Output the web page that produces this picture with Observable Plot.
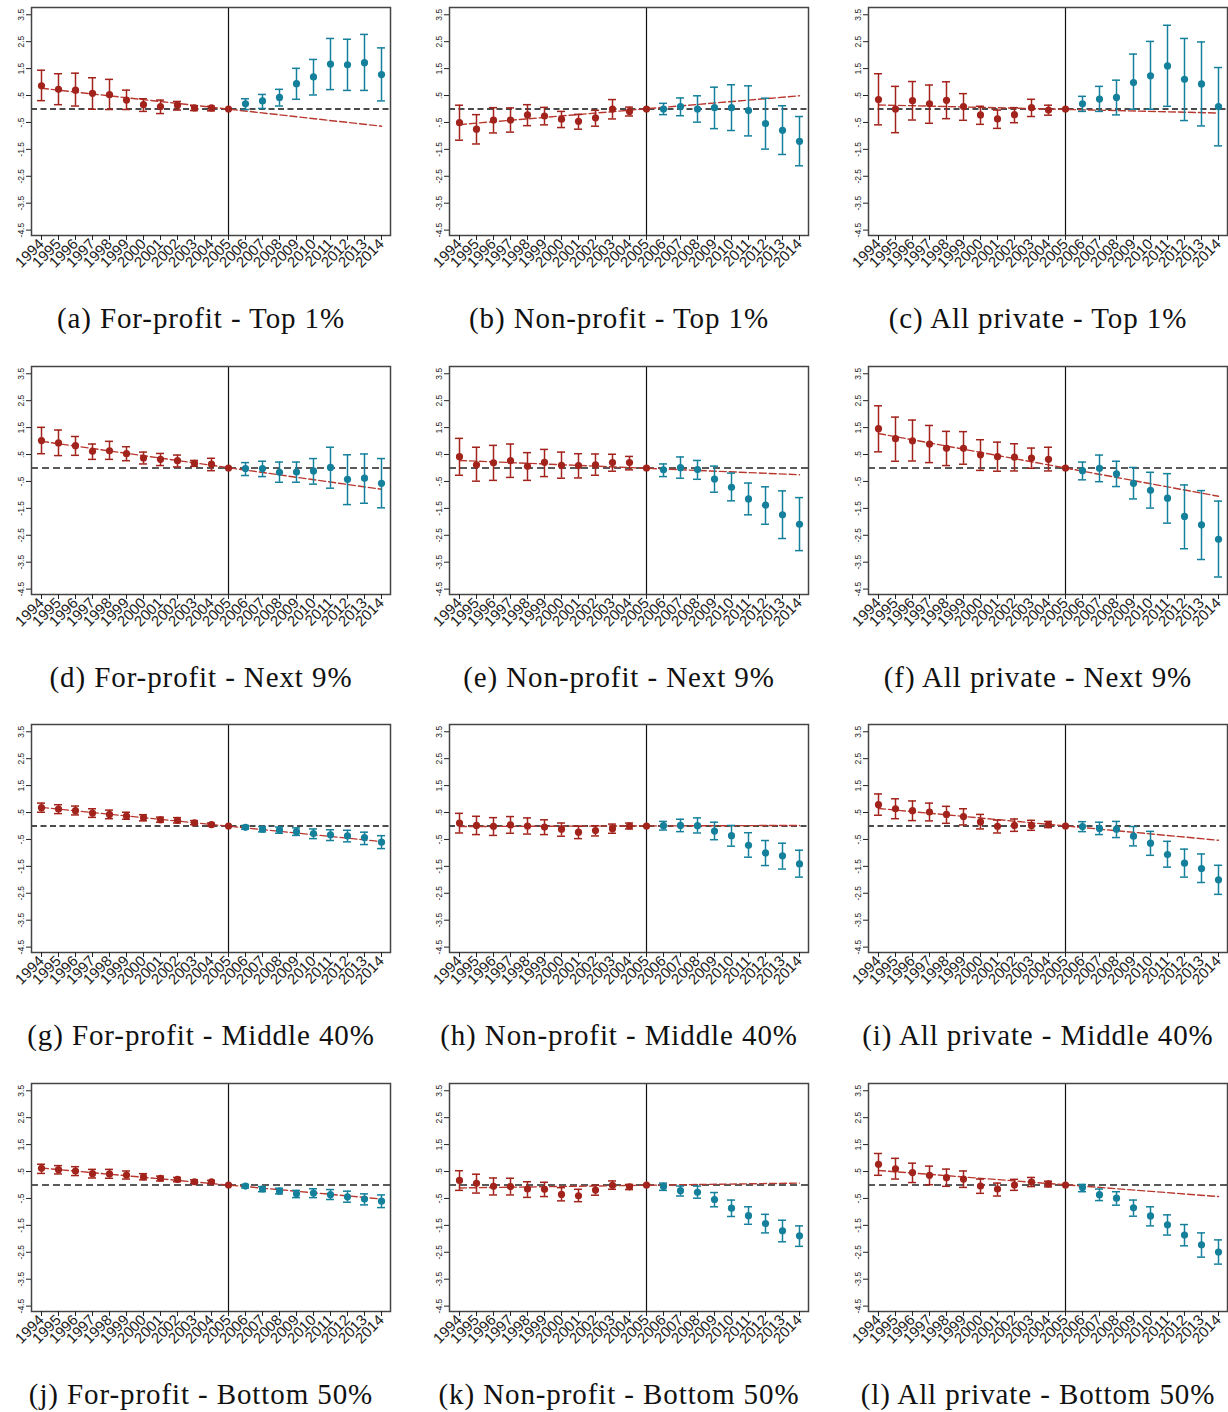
<!DOCTYPE html>
<html><head><meta charset="utf-8">
<script src="https://cdn.jsdelivr.net/npm/d3@7"></script>
<script src="https://cdn.jsdelivr.net/npm/@observablehq/plot@0.6"></script>
<style>
body{margin:0;background:#fff;overflow:hidden;}
#wrap{position:relative;width:1228px;height:1412px;background:#fff;}
.panel{position:absolute;}
.cap{position:absolute;width:402px;height:30px;line-height:30px;text-align:center;font-family:"Liberation Serif",serif;font-size:29px;letter-spacing:0.9px;white-space:nowrap;color:#111;}
</style></head><body><div id="wrap"></div>
<script>
const years = [1994,1995,1996,1997,1998,1999,2000,2001,2002,2003,2004,2005,2006,2007,2008,2009,2010,2011,2012,2013,2014];
const yTicks = [3.5,2.5,1.5,0.5,-0.5,-1.5,-2.5,-3.5,-4.5];
const captions = ["(a) For-profit - Top 1%","(b) Non-profit - Top 1%","(c) All private - Top 1%",
  "(d) For-profit - Next 9%","(e) Non-profit - Next 9%","(f) All private - Next 9%",
  "(g) For-profit - Middle 40%","(h) Non-profit - Middle 40%","(i) All private - Middle 40%",
  "(j) For-profit - Bottom 50%","(k) Non-profit - Bottom 50%","(l) All private - Bottom 50%"];

const estA=[0.86,0.73,0.70,0.58,0.53,0.33,0.16,0.09,0.14,0.04,0.04,0,0.19,0.30,0.43,0.94,1.19,1.67,1.64,1.72,1.28];
const loA=[0.31,0.16,0.11,-0.01,-0.02,-0.02,-0.09,-0.17,-0.04,-0.06,-0.07,0,-0.02,0.02,0.11,0.36,0.52,0.72,0.69,0.69,0.30];
const hiA=[1.44,1.31,1.33,1.16,1.10,0.70,0.38,0.33,0.28,0.12,0.10,0,0.38,0.54,0.73,1.51,1.84,2.62,2.59,2.77,2.27];

const estB=[-0.51,-0.75,-0.41,-0.41,-0.22,-0.26,-0.38,-0.46,-0.33,0.00,-0.09,0,0,0.09,0,0.05,0.05,-0.06,-0.54,-0.79,-1.20];
const loB=[-1.16,-1.30,-0.89,-0.86,-0.62,-0.59,-0.69,-0.75,-0.64,-0.37,-0.26,0,-0.21,-0.25,-0.49,-0.73,-0.80,-1.00,-1.49,-1.69,-2.11];
const hiB=[0.14,-0.21,0.05,0.04,0.16,0.06,-0.09,-0.20,-0.05,0.35,0.07,0,0.21,0.41,0.49,0.81,0.90,0.86,0.40,0.12,-0.28];

const estC=[0.35,0,0.31,0.19,0.32,0.09,-0.22,-0.37,-0.21,0.05,-0.04,0,0.19,0.37,0.43,0.98,1.23,1.60,1.10,0.93,0.09];
const loC=[-0.59,-0.88,-0.41,-0.53,-0.36,-0.42,-0.57,-0.72,-0.51,-0.28,-0.23,0,-0.09,-0.09,-0.22,-0.01,-0.01,0.10,-0.43,-0.63,-1.37];
const hiC=[1.31,0.84,1.02,0.89,1.01,0.57,0.10,-0.04,0.05,0.36,0.14,0,0.47,0.84,1.07,2.04,2.51,3.11,2.62,2.49,1.54];

const estD=[1.02,0.93,0.83,0.62,0.64,0.53,0.37,0.32,0.27,0.17,0.14,0,-0.02,-0.02,-0.16,-0.15,-0.11,0.02,-0.42,-0.38,-0.57];
const loD=[0.53,0.46,0.47,0.32,0.32,0.27,0.15,0.09,0.04,0.06,-0.10,0,-0.28,-0.32,-0.53,-0.53,-0.60,-0.75,-1.36,-1.31,-1.48];
const hiD=[1.51,1.41,1.17,0.89,0.99,0.79,0.59,0.54,0.48,0.28,0.36,0,0.20,0.25,0.22,0.22,0.35,0.77,0.49,0.52,0.35];

const estE=[0.42,0.12,0.19,0.27,0.06,0.21,0.10,0.09,0.12,0.20,0.20,0,-0.07,0.01,-0.06,-0.41,-0.72,-1.15,-1.38,-1.74,-2.09];
const loE=[-0.27,-0.49,-0.46,-0.35,-0.46,-0.32,-0.38,-0.37,-0.27,-0.12,-0.07,0,-0.32,-0.38,-0.42,-0.90,-1.22,-1.74,-2.09,-2.62,-3.07];
const hiE=[1.10,0.77,0.84,0.89,0.57,0.69,0.59,0.53,0.52,0.51,0.43,0,0.15,0.41,0.28,0.07,-0.19,-0.56,-0.70,-0.85,-1.10];

const estF=[1.46,1.09,1.01,0.89,0.73,0.73,0.49,0.42,0.40,0.37,0.32,0,-0.10,-0.01,-0.22,-0.57,-0.83,-1.12,-1.80,-2.11,-2.65];
const loF=[0.60,0.25,0.26,0.20,0.09,0.14,-0.09,-0.12,-0.11,-0.01,-0.11,0,-0.44,-0.51,-0.69,-1.15,-1.49,-2.05,-3.00,-3.40,-4.05];
const hiF=[2.31,1.89,1.78,1.58,1.36,1.35,1.05,0.96,0.90,0.74,0.77,0,0.22,0.48,0.25,0.02,-0.16,-0.21,-0.63,-0.84,-1.23];

const estG=[0.68,0.63,0.57,0.48,0.43,0.37,0.31,0.23,0.21,0.12,0.05,0,-0.05,-0.12,-0.15,-0.21,-0.28,-0.33,-0.37,-0.43,-0.60];
const loG=[0.51,0.46,0.41,0.32,0.27,0.25,0.19,0.14,0.11,0.05,-0.01,0,-0.12,-0.22,-0.27,-0.35,-0.47,-0.54,-0.59,-0.69,-0.84];
const hiG=[0.85,0.79,0.74,0.64,0.59,0.51,0.42,0.33,0.31,0.20,0.11,0,0.02,-0.02,-0.04,-0.07,-0.11,-0.14,-0.16,-0.23,-0.36];

const estH=[0.11,0.02,-0.01,0.04,0,-0.04,-0.12,-0.23,-0.17,-0.10,0,0,0.01,0.02,0.01,-0.19,-0.36,-0.72,-1.00,-1.11,-1.41];
const loH=[-0.26,-0.32,-0.35,-0.27,-0.30,-0.32,-0.38,-0.47,-0.37,-0.27,-0.11,0,-0.15,-0.21,-0.26,-0.51,-0.75,-1.16,-1.47,-1.60,-1.90];
const hiH=[0.47,0.36,0.31,0.35,0.30,0.23,0.11,-0.01,0.01,0.07,0.11,0,0.17,0.25,0.30,0.14,0.02,-0.25,-0.54,-0.64,-0.90];

const estI=[0.79,0.64,0.57,0.52,0.43,0.35,0.15,-0.01,0.02,0.02,0.05,0,-0.02,-0.09,-0.12,-0.38,-0.64,-1.06,-1.38,-1.58,-2.00];
const loI=[0.40,0.27,0.20,0.19,0.10,0.04,-0.11,-0.26,-0.20,-0.16,-0.06,0,-0.21,-0.32,-0.43,-0.74,-1.09,-1.53,-1.90,-2.10,-2.54];
const hiI=[1.19,1.01,0.93,0.85,0.73,0.64,0.43,0.22,0.26,0.21,0.17,0,0.16,0.14,0.17,-0.02,-0.20,-0.57,-0.86,-1.04,-1.46];

const estJ=[0.62,0.57,0.52,0.42,0.41,0.37,0.30,0.25,0.21,0.12,0.12,0,-0.04,-0.15,-0.23,-0.33,-0.30,-0.36,-0.44,-0.52,-0.60];
const loJ=[0.43,0.41,0.35,0.26,0.25,0.22,0.19,0.15,0.12,0.06,0.06,0,-0.11,-0.25,-0.33,-0.47,-0.47,-0.54,-0.64,-0.74,-0.84];
const hiJ=[0.77,0.72,0.68,0.58,0.58,0.52,0.42,0.33,0.28,0.19,0.17,0,0.02,-0.06,-0.12,-0.20,-0.14,-0.17,-0.23,-0.33,-0.37];

const estK=[0.17,0.06,-0.05,-0.06,-0.15,-0.16,-0.35,-0.40,-0.19,-0.01,-0.07,0,-0.06,-0.21,-0.27,-0.54,-0.86,-1.14,-1.43,-1.70,-1.89];
const loK=[-0.20,-0.30,-0.37,-0.37,-0.46,-0.43,-0.59,-0.62,-0.38,-0.16,-0.17,0,-0.20,-0.41,-0.49,-0.81,-1.17,-1.46,-1.78,-2.11,-2.28];
const hiK=[0.53,0.40,0.26,0.25,0.12,0.10,-0.10,-0.16,-0.01,0.15,0.02,0,0.07,-0.04,-0.04,-0.28,-0.56,-0.81,-1.09,-1.31,-1.52];

const estL=[0.77,0.60,0.46,0.36,0.27,0.22,-0.04,-0.15,0,0.11,0.04,0,-0.09,-0.36,-0.49,-0.85,-1.15,-1.48,-1.86,-2.22,-2.49];
const loL=[0.36,0.22,0.09,0.01,-0.05,-0.09,-0.31,-0.41,-0.20,-0.06,-0.07,0,-0.25,-0.58,-0.75,-1.16,-1.52,-1.86,-2.26,-2.68,-2.94];
const hiL=[1.17,0.99,0.81,0.70,0.59,0.52,0.22,0.07,0.21,0.28,0.14,0,0.02,-0.15,-0.25,-0.56,-0.81,-1.11,-1.47,-1.78,-2.04];

// pre-trend fitted line, values at 1994 and at 2014
const trendStart=[0.77,-0.58,0.15, 0.99,0.28,1.28, 0.69,-0.02,0.65, 0.63,-0.11,0.54];
const trendEnd  =[-0.64,0.49,-0.15, -0.79,-0.25,-1.05, -0.58,0.02,-0.53, -0.52,0.07,-0.43];

const ests=[estA,estB,estC,estD,estE,estF,estG,estH,estI,estJ,estK,estL];
const los=[loA,loB,loC,loD,loE,loF,loG,loH,loI,loJ,loK,loL];
const his=[hiA,hiB,hiC,hiD,hiE,hiF,hiG,hiH,hiI,hiJ,hiK,hiL];

const RED="#a2231b", BLUE="#14809b", TREND="#b8382f";
const colLeft=[0,418,837], rowTop=[0,359,717,1076];
const fmt = d => String(d).replace(/^(-?)0\./,"$1.");

function panel(p){
  const row=Math.floor(p/3);
  const data=years.map((yr,i)=>({yr,est:ests[p][i],lo:los[p][i],hi:his[p][i]}));
  const pre=data.filter(d=>d.yr<=2005), post=data.filter(d=>d.yr>2005);
  const trend=[{yr:years[0],v:trendStart[p]},{yr:years[years.length-1],v:trendEnd[p]}];
  const zeroGray = row===1||row===3;
  const groupMarks=[];
  for (const [set,col] of [[pre,RED],[post,BLUE]]){
    const bars=set.filter(d=>d.lo!==d.hi);
    groupMarks.push(
      Plot.ruleX(bars,{x:"yr",y1:"lo",y2:"hi",stroke:col,strokeWidth:1.5}),
      Plot.tickY(bars,{x:"yr",y:"lo",stroke:col,strokeWidth:1.5}),
      Plot.tickY(bars,{x:"yr",y:"hi",stroke:col,strokeWidth:1.5}),
      Plot.dot(set,{x:"yr",y:"est",r:3.6,fill:col,stroke:null})
    );
  }
  return Plot.plot({
    width:392,height:282,
    marginLeft:31,marginRight:2,marginTop:7,marginBottom:47,
    style:{fontFamily:"'Liberation Sans', Arial, sans-serif",background:"transparent",color:"#222",overflow:"visible"},
    x:{type:"band",domain:years,paddingInner:0.53,paddingOuter:0.23,align:0.5},
    y:{domain:[-4.7,3.77]},
    marks:[
      Plot.ruleY([0],{stroke:zeroGray?"#5a5a5a":"#111",strokeWidth:zeroGray?2:1.4,strokeDasharray:zeroGray?"7,4":"6,3.5"}),
      Plot.ruleX([2005],{stroke:"#111",strokeWidth:1.2}),
      Plot.line(trend,{x:"yr",y:"v",stroke:TREND,strokeWidth:1.4,strokeDasharray:"7,3"}),
      ...groupMarks,
      Plot.frame({stroke:"#444",strokeWidth:1.5}),
      Plot.axisX({ticks:years,tickRotate:-45,tickSize:5,tickPadding:1,fontSize:15,label:null,tickFormat:d=>String(d)}),
      Plot.axisY({ticks:yTicks,tickRotate:-90,tickSize:5,tickPadding:3,fontSize:8.5,label:null,tickFormat:fmt})
    ]
  });
}

const wrap=document.getElementById("wrap");
for(let p=0;p<12;p++){
  const r=Math.floor(p/3), c=p%3;
  const svg=panel(p);
  svg.classList.add("panel");
  svg.style.left=colLeft[c]+"px";
  svg.style.top=rowTop[r]+"px";
  wrap.appendChild(svg);
  const cap=document.createElement("div");
  cap.className="cap";
  cap.textContent=captions[p];
  cap.style.left=colLeft[c]+"px";
  cap.style.top=(rowTop[r]+303)+"px";
  wrap.appendChild(cap);
}
</script></body></html>
